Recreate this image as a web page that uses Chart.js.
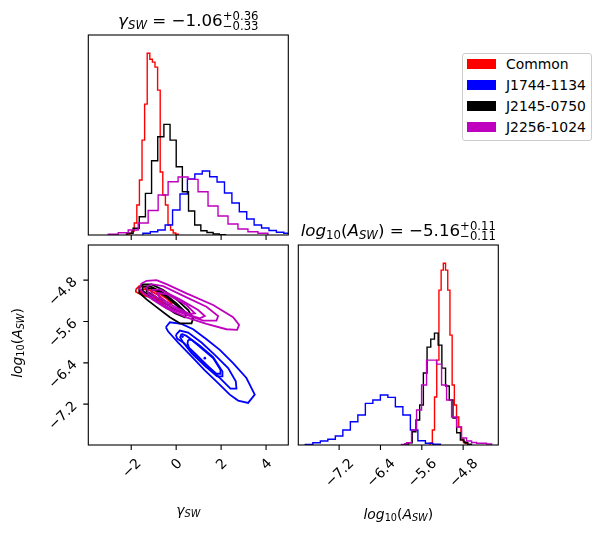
<!DOCTYPE html>
<html>
<head>
<meta charset="utf-8">
<script src="https://cdn.jsdelivr.net/npm/chart.js@4.4.1/dist/chart.umd.min.js"></script>
<style>
  html, body { margin: 0; padding: 0; background: #fff; }
  #fig { position: relative; width: 601px; height: 533px; overflow: hidden; font-family: "DejaVu Sans", sans-serif; }
  #fig canvas { position: absolute; left: 0; top: 0; }
  #legend { position: absolute; left: 461.5px; top: 52.5px; width: 128.5px; height: 86px; border: 1px solid #cccccc; border-radius: 3px; background: #fff; }
  .item { position: absolute; left: 4px; height: 14px; width: 120px; }
  .item i { position: absolute; left: 0; top: 2px; width: 29px; height: 10px; }
  .item span { position: absolute; left: 39.5px; top: -1px; font-size: 13.9px; line-height: 17px; white-space: nowrap; color: #000; }
</style>
</head>
<body>
<div id="fig">
  <canvas id="histGamma" width="601" height="533"></canvas>
  <canvas id="contour" width="601" height="533"></canvas>
  <canvas id="histLogA" width="601" height="533"></canvas>
  <div id="legend"></div>
</div>
<script>
// ---- values ----
const seriesNames = ['Common', 'J1744-1134', 'J2145-0750', 'J2256-1024'];
const seriesColors = ['#ff0000', '#0000ff', '#000000', '#bf00bf'];

const gammaRange = [-3.91, 4.99];
const logARange = [-7.99, -4.12];
const gammaTicks = [-2, 0, 2, 4];
const gammaTickLabels = ['−2', '0', '2', '4'];
const logATicks = [-7.2, -6.4, -5.6, -4.8];
const logATickLabels = ['−7.2', '−6.4', '−5.6', '−4.8'];

// gamma_SW histograms: first bin edge, bin width, bin heights (arbitrary units)
const gammaBinStart = [-2.213, -1.480, -2.190, -3.022];
const gammaBinWidth = [0.1156, 0.330, 0.274, 0.444];
const gammaCommon = [0.7, 1.5, 4, 12, 30, 55, 95, 131, 182, 176, 173, 168, 145, 63, 40, 30, 10, 5, 2, 0.7];
const gammaJ1744 = [1.7, 3.3, 5, 10, 25, 41, 56, 61, 64, 58.3, 53, 42, 32, 23.3, 16, 10, 7, 4.5, 2.7, 1.7];
const gammaJ2145 = [1.7, 6.7, 18.3, 41.7, 74.3, 98.3, 110.7, 95, 68.3, 43.3, 24, 10, 4.2, 2.5, 1, 0.3];
const gammaJ2256 = [0.7, 2.3, 5, 12, 24.5, 40, 53.3, 58, 55.7, 43.3, 29, 19, 11, 6, 3.3, 1.7];

// log10(A_SW) histograms
const logABinStart = [-5.439, -7.854, -5.928, -5.992];
const logABinWidth = [0.0426, 0.1452, 0.0716, 0.0968];
const logACommon = [2, 15, 48, 85, 155, 175, 182, 175, 155, 110, 60, 40, 28, 18, 6, 3.3, 1.5];
const logAJ1744 = [0.5, 2.3, 4, 5.7, 9, 15, 23.3, 30, 41.7, 45, 50, 47.7, 38.3, 30, 15, 4.3, 1.7, 0.7];
const logAJ2145 = [1, 2.3, 13.3, 25, 40, 72, 98, 106, 112, 100, 77, 59, 45, 27, 12.3, 5, 2.3, 0.7];
const logAJ2256 = [0.5, 2.3, 15, 35, 60, 85, 85, 81, 60, 45, 28, 18, 7, 4, 2.5, 1.7, 1.7, 1];

// 2D contours, [gamma_SW, log10(A_SW)] vertices
const contourCommon = [
  [[-1.792,-4.980],[-1.643,-4.915],[-1.317,-4.928],[-0.873,-5.025],[-0.429,-5.153],[-0.206,-5.249],[-0.355,-5.281],[-0.725,-5.217],[-1.169,-5.134],[-1.614,-5.069],[-1.792,-5.025]],
  [[-1.614,-4.992],[-1.317,-4.967],[-0.799,-5.089],[-0.547,-5.185],[-0.799,-5.172],[-1.243,-5.076],[-1.584,-5.044]]
];
const contourJ1744 = [
  [[-0.458,-5.712],[-0.280,-5.615],[0.238,-5.648],[0.757,-5.750],[1.349,-5.943],[1.942,-6.148],[2.534,-6.405],[3.127,-6.694],[3.497,-7.016],[3.201,-7.176],[2.757,-7.131],[2.386,-7.016],[1.868,-6.791],[1.275,-6.547],[0.683,-6.277],[0.090,-6.007],[-0.355,-5.795]],
  [[-0.014,-5.859],[0.164,-5.776],[0.534,-5.814],[1.127,-6.007],[1.720,-6.245],[2.312,-6.502],[2.653,-6.759],[2.683,-6.900],[2.416,-6.900],[2.016,-6.726],[1.423,-6.470],[0.831,-6.213],[0.312,-6.007],[0.045,-5.930]],
  [[0.238,-5.840],[0.460,-5.879],[1.053,-6.071],[1.645,-6.290],[2.060,-6.566],[2.060,-6.662],[1.823,-6.662],[1.275,-6.457],[0.683,-6.213],[0.283,-5.988],[0.179,-5.904]],
  [[0.534,-5.956],[0.683,-5.956],[1.645,-6.309],[1.971,-6.534],[1.971,-6.611],[1.794,-6.611],[1.201,-6.393],[0.579,-6.116],[0.505,-6.020]]
];
const peaksJ1744 = [[0.283,-5.892],[1.275,-6.309]];
const contourJ2145 = [
  [[-1.643,-4.941],[-1.466,-4.883],[-1.095,-4.883],[-0.577,-4.992],[0.016,-5.172],[0.534,-5.378],[0.757,-5.538],[0.683,-5.635],[0.164,-5.635],[-0.280,-5.519],[-0.799,-5.346],[-1.317,-5.172],[-1.643,-5.044]],
  [[-1.495,-4.928],[-1.169,-4.915],[-0.577,-5.044],[0.016,-5.249],[0.460,-5.442],[0.386,-5.519],[-0.058,-5.442],[-0.651,-5.262],[-1.243,-5.089],[-1.495,-5.005]],
  [[-1.317,-4.960],[-1.021,-4.960],[-0.429,-5.121],[0.090,-5.314],[0.238,-5.410],[0.016,-5.391],[-0.503,-5.236],[-1.095,-5.069],[-1.317,-5.025]]
];
const contourJ2256 = [
  [[-1.540,-4.864],[-1.317,-4.813],[-0.873,-4.800],[-0.429,-4.877],[0.460,-5.057],[1.645,-5.281],[2.534,-5.519],[2.801,-5.667],[2.712,-5.763],[2.238,-5.750],[1.349,-5.647],[0.460,-5.519],[-0.429,-5.346],[-1.021,-5.185],[-1.466,-5.044],[-1.643,-4.960]],
  [[-1.317,-4.928],[-1.095,-4.877],[-0.577,-4.915],[0.460,-5.134],[1.349,-5.314],[1.868,-5.493],[1.794,-5.583],[1.201,-5.583],[0.460,-5.474],[-0.280,-5.346],[-0.873,-5.198],[-1.243,-5.057]],
  [[-1.095,-4.992],[-0.725,-4.980],[0.164,-5.172],[0.979,-5.378],[1.275,-5.493],[1.053,-5.538],[0.460,-5.455],[-0.280,-5.301],[-0.873,-5.134],[-1.095,-5.057]],
  [[-0.873,-5.044],[-0.429,-5.069],[0.460,-5.281],[0.831,-5.442],[0.608,-5.455],[-0.058,-5.314],[-0.725,-5.134]]
];

const gammaSummary = ['−1.06', '+0.36', '−0.33'];
const logASummary = ['−5.16', '+0.11', '−0.11'];

// ---- drawing ----
const W = 601, H = 533;
const FONT = '"DejaVu Sans", sans-serif';
const font = (size, it) => (it ? 'italic ' : '') + size + 'px ' + FONT;

function partWidth(ctx, p, size) {
  if (p.stack) {
    ctx.font = font(size * p.sc, false);
    return Math.max(...p.stack.map(s => ctx.measureText(s).width));
  }
  ctx.font = font(size * (p.sc || 1), p.it);
  return ctx.measureText(p.t).width;
}

// text pieces laid out one after another, centred on x, baseline y
function drawRich(ctx, parts, x, y, size) {
  const total = parts.reduce((s, p) => s + partWidth(ctx, p, size), 0);
  let cx = x - total / 2;
  ctx.textAlign = 'left';
  ctx.textBaseline = 'alphabetic';
  parts.forEach(p => {
    const w = partWidth(ctx, p, size);
    if (p.stack) {
      ctx.font = font(size * p.sc, false);
      ctx.fillText(p.stack[0], cx, y - p.up * size);
      ctx.fillText(p.stack[1], cx, y + p.dn * size);
    } else {
      ctx.font = font(size * (p.sc || 1), p.it);
      ctx.fillText(p.t, cx, y + (p.dy || 0) * size);
    }
    cx += w;
  });
}

// rotated tick labels, placed like matplotlib (box centre given)
const TICK_FS = 13.9;
function boxSide(ctx, text) {
  ctx.font = font(TICK_FS);
  return (ctx.measureText(text).width + 1.164 * TICK_FS) * Math.SQRT1_2;
}
function putRotated(ctx, text, cx, cy) {
  ctx.save();
  ctx.font = font(TICK_FS);
  ctx.translate(cx, cy);
  ctx.rotate(-Math.PI / 4);
  ctx.textAlign = 'center';
  ctx.textBaseline = 'alphabetic';
  ctx.fillText(text, 0, 0.346 * TICK_FS);
  ctx.restore();
}

function decoPlugin(d) {
  return {
    id: 'deco',
    afterDraw(chart) {
      const { ctx, chartArea: a } = chart;
      const sx = chart.scales.x, sy = chart.scales.y;
      ctx.save();
      ctx.strokeStyle = '#000';
      ctx.fillStyle = '#000';
      ctx.lineWidth = 1.1;
      ctx.strokeRect(a.left, a.top, a.right - a.left, a.bottom - a.top);
      ctx.beginPath();
      (d.xTicks || []).forEach(v => { const p = sx.getPixelForValue(v); ctx.moveTo(p, a.bottom); ctx.lineTo(p, a.bottom + 5); });
      (d.yTicks || []).forEach(v => { const p = sy.getPixelForValue(v); ctx.moveTo(a.left - 5, p); ctx.lineTo(a.left, p); });
      ctx.stroke();
      if (d.xLabels) d.xTicks.forEach((v, i) => {
        const t = d.xLabels[i];
        putRotated(ctx, t, sx.getPixelForValue(v), a.bottom + 9.8 + boxSide(ctx, t) / 2);
      });
      if (d.yLabels) d.yTicks.forEach((v, i) => {
        putRotated(ctx, d.yLabels[i], a.left - 26, sy.getPixelForValue(v) + 11);
      });
      if (d.title) drawRich(ctx, d.title, (a.left + a.right) / 2, a.top - 8.7, 16.7);
      if (d.xTitle) drawRich(ctx, d.xTitle, (a.left + a.right) / 2, d.xTitleY, 13.9);
      if (d.yTitle) {
        ctx.translate(21.5, (a.top + a.bottom) / 2 - 2);
        ctx.rotate(-Math.PI / 2);
        drawRich(ctx, d.yTitle, 0, 0, 13.9);
      }
      ctx.restore();
    }
  };
}

const SUB = 0.15;
const gammaSym = [{ t: 'γ', it: true }, { t: 'SW', it: true, sc: 0.7, dy: SUB }];
const logASym = [{ t: 'log', it: true }, { t: '10', sc: 0.7, dy: SUB }, { t: '(' }, { t: 'A', it: true },
                 { t: 'SW', it: true, sc: 0.7, dy: SUB }, { t: ')' }];
const summary = v => [{ t: ' = ' + v[0] }, { stack: [v[1], v[2]], sc: 0.7, up: 0.36, dn: 0.2 }];

// matplotlib draws Common first and J2256 last; lower order ends on top here
const drawOrder = [3, 2, 1, 0];

function histDataset(start, width, counts, i) {
  const pts = [{ x: start, y: 0 }];
  counts.forEach((c, k) => pts.push({ x: start + k * width, y: c }));
  pts.push({ x: start + counts.length * width, y: 0 });
  return { data: pts, borderColor: seriesColors[i], borderWidth: 1.4, stepped: true,
           pointRadius: 0, fill: false, order: drawOrder[i] };
}
function contourDatasets(levels, i) {
  return levels.map(l => ({
    data: l.concat([l[0]]).map(([x, y]) => ({ x, y })),
    borderColor: seriesColors[i], borderWidth: 1.8, pointRadius: 0, fill: false, tension: 0, order: drawOrder[i]
  }));
}

function makePanel(id, rect, xr, yr, datasets, deco) {
  return new Chart(document.getElementById(id), {
    type: 'line',
    data: { datasets },
    options: {
      responsive: false,
      animation: false,
      events: [],
      layout: { padding: { left: rect[0], top: rect[1], right: W - rect[2], bottom: H - rect[3] } },
      scales: {
        x: { type: 'linear', min: xr[0], max: xr[1], display: false },
        y: { type: 'linear', min: yr[0], max: yr[1], display: false }
      },
      elements: { line: { borderJoinStyle: 'miter', capBezierPoints: false } },
      plugins: { legend: { display: false }, tooltip: { enabled: false } }
    },
    plugins: [decoPlugin(deco)]
  });
}

const gammaHists = [gammaCommon, gammaJ1744, gammaJ2145, gammaJ2256];
const logAHists = [logACommon, logAJ1744, logAJ2145, logAJ2256];
const contours = [contourCommon, contourJ1744, contourJ2145, contourJ2256];

const topOf = hs => 1.1 * Math.max(...hs.flat());

makePanel('histGamma', [88.3, 35, 288.3, 235], gammaRange, [0, topOf(gammaHists)],
  gammaHists.map((h, i) => histDataset(gammaBinStart[i], gammaBinWidth[i], h, i)),
  { xTicks: gammaTicks, title: gammaSym.concat(summary(gammaSummary)) });

const contourSets = contours.flatMap((c, i) => contourDatasets(c, i));
contourSets.push({
  data: peaksJ1744.map(([x, y]) => ({ x, y })), showLine: false, pointRadius: 1.3, pointBorderWidth: 0,
  pointBackgroundColor: seriesColors[1], borderColor: seriesColors[1], order: drawOrder[1]
});
makePanel('contour', [88.3, 245, 288.3, 445], gammaRange, logARange, contourSets,
  { xTicks: gammaTicks, xLabels: gammaTickLabels, yTicks: logATicks, yLabels: logATickLabels,
    xTitle: gammaSym, xTitleY: 514.5, yTitle: logASym });

makePanel('histLogA', [298.3, 245, 498.3, 445], logARange, [0, topOf(logAHists)],
  logAHists.map((h, i) => histDataset(logABinStart[i], logABinWidth[i], h, i)),
  { xTicks: logATicks, xLabels: logATickLabels, title: logASym.concat(summary(logASummary)),
    xTitle: logASym, xTitleY: 518.5 });

// legend
const legend = document.getElementById('legend');
seriesNames.forEach((name, i) => {
  const row = document.createElement('div');
  row.className = 'item';
  row.style.top = (3.7 + 21 * i) + 'px';
  row.innerHTML = '<i style="background:' + seriesColors[i] + '"></i><span>' + name + '</span>';
  legend.appendChild(row);
});
</script>
</body>
</html>
